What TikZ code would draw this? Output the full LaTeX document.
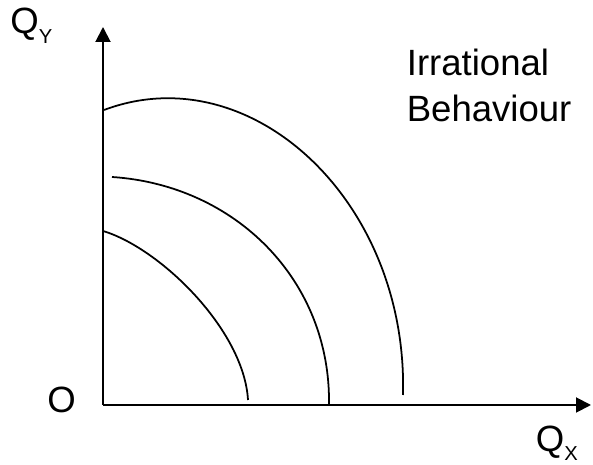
\documentclass[tikz,border=0pt]{standalone}
\usepackage{fontspec}
\setmainfont{Liberation Sans}
\usetikzlibrary{
  arrows.meta
}
\tikzset{
  axisline/.style={-{Triangle[length=3mm,width=3mm]},line width=1.1pt},
  curveline/.style={line width=1pt},
  biglabel/.style={font=\fontsize{20.8}{26.2}\selectfont,inner sep=0pt}
}
\newcommand{\qsub}[1]{Q\raisebox{-0.25em}{\fontsize{11.5}{13}\selectfont #1}}

\begin{document}
\begin{tikzpicture}[x=1cm,y=1cm]
  \useasboundingbox (-2.06,-1.2) rectangle (9.8,8.1);
  % axes
  \coordinate (O) at (0,0);
  \coordinate (ytip) at (0,7.56);
  \coordinate (xtip) at (9.76,0);
  \draw[axisline] (O) -- (ytip);
  \draw[axisline] (O) -- (xtip);
  \node[biglabel,anchor=base west] (qy) at (-1.86,7.42) {\qsub{Y}};
  \node[biglabel,anchor=base] (origin) at (-0.83,-0.16) {O};
  \node[biglabel,anchor=base west] (qx) at (8.65,-0.93) {\qsub{X}};
  % indifference curves
  \draw[curveline] (0,3.48) .. controls (1.14,3.14) and (2.82,1.50) .. (2.90,0.10);
  \draw[curveline] (0.18,4.56) .. controls (2.64,4.40) and (4.56,2.50) .. (4.52,0);
  \draw[curveline] (0.02,5.90) .. controls (2.94,7.00) and (6.10,4.10) .. (6.00,0.20);
  \node[biglabel,anchor=base west,align=left] (irr) at (6.07,5.67) {Irrational\\Behaviour};
\end{tikzpicture}
\end{document}
